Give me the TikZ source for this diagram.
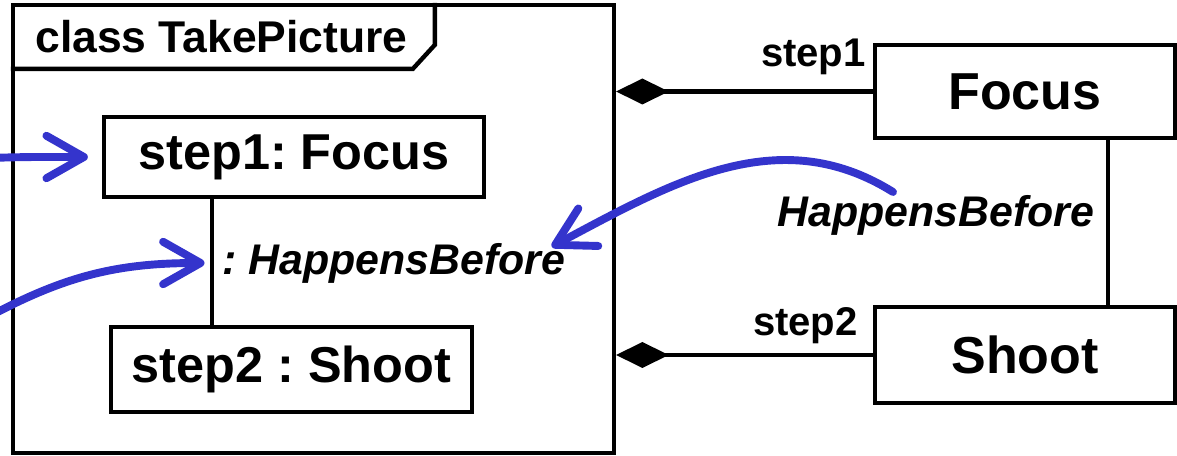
\documentclass[tikz,border=0pt]{standalone}
\usepackage{fontspec}
\setmainfont{Liberation Sans}
\usetikzlibrary{arrows.meta, calc}
\frenchspacing

\definecolor{flowblue}{RGB}{52,52,204}

\begin{document}
\begin{tikzpicture}[x=0.02cm, y=0.02cm,
    part/.style={draw, line width=2.5pt, inner sep=0pt,
      font=\bfseries\fontsize{28.7}{34}\selectfont},
    typebox/.style={part, minimum width=6cm,
      font=\bfseries\fontsize{29.6}{35}\selectfont},
    rolename/.style={inner sep=0pt, font=\bfseries\fontsize{22.8}{27}\selectfont},
    relname/.style={inner sep=0pt, font=\bfseries\itshape\fontsize{24.4}{29}\selectfont},
    flow/.style={flowblue, line width=4.5pt, line cap=round,
      -{Straight Barb[round, length=0.75cm, width=0.85cm]}},
    compose/.style={line width=2.5pt, {Diamond[length=1.05cm, width=0.52cm]}-}]
  \useasboundingbox (0,0) rectangle (1177,456);

  % Frame of the class with its name tab
  \node[draw, line width=2.5pt, minimum width=12.02cm, minimum height=8.96cm] (frame) at (313.5,227) {};
  \draw[line width=2.5pt] ($(frame.north west)+(0,-66)$) -- ++(402,0) -- ++(22,24) -- ++(0,42);
  \node[anchor=west, inner sep=0pt, font=\bfseries\fontsize{25.3}{30}\selectfont] (title) at (35,419) {class TakePicture};

  % Parts inside the class
  \node[part, minimum width=7.6cm, minimum height=1.6cm] (step1) at (294,299) {step1: Focus};
  \node[part, minimum width=7.22cm, minimum height=1.7cm] (step2) at (291.5,86.5) {step2 : Shoot};
  \coordinate (link) at (212,193);
  \draw[line width=2.5pt] (step1.south -| link) -- (step2.north -| link);
  \node[relname, anchor=west] (hbpart) at (222,193) {: HappensBefore};

  % Types on the right
  \node[typebox, minimum height=1.86cm] (focus) at (1025,364.5) {Focus};
  \node[typebox, minimum height=1.92cm] (shoot) at (1025,101) {Shoot};
  \draw[line width=2.5pt] (focus.south -| 1108,0) -- (shoot.north -| 1108,0);
  \node[relname] (hbtype) at (936,241) {HappensBefore};

  % Composition links
  \draw[compose] (frame.east |- focus) -- (focus.west);
  \draw[compose] (frame.east |- shoot) -- (shoot.west);
  \node[rolename, anchor=east] (role1) at (866,399) {step1};
  \node[rolename, anchor=east] (role2) at (858,130) {step2};

  % Blue arrows
  \coordinate (in1) at (-10,298);
  \coordinate (in2) at (-10,140);
  \coordinate (hbstart) at (893,264);
  \draw[flow] (in1) to[out=2, in=180] ([xshift=-0.28cm]step1.west);
  \draw[flow] (in2) to[out=28, in=180] ([xshift=-0.15cm]link);
  \draw[flow] (hbstart) to[out=148, in=28] ([shift={(-14,-4)}]hbpart.north east);
\end{tikzpicture}
\end{document}
